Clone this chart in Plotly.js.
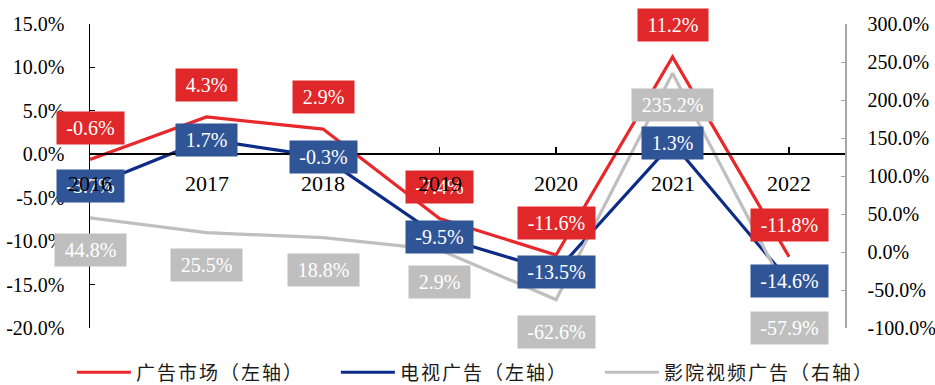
<!DOCTYPE html>
<html><head><meta charset="utf-8">
<script src="https://cdn.plot.ly/plotly-3.0.1.min.js"></script>
<style>body{margin:0;background:#fff}#chart{width:935px;height:385px}.legendtext{letter-spacing:2px}</style>
</head><body><div id="chart"></div>
<script>
const years = ['2016','2017','2018','2019','2020','2021','2022'];
const adMarket = [-0.6, 4.3, 2.9, -7.4, -11.6, 11.2, -11.8];
const tvAd = [-3.7, 1.7, -0.3, -9.5, -13.5, 1.3, -14.6];
const cinemaAd = [44.8, 25.5, 18.8, 2.9, -62.6, 235.2, -57.9];
const leftTicks = [-20, -15, -10, -5, 0, 5, 10, 15];
const rightTicks = [-100, -50, 0, 50, 100, 150, 200, 250, 300];
const seriesNames = ['广告市场（左轴）', '电视广告（左轴）', '影院视频广告（右轴）'];

const fmt = v => v.toFixed(1) + '%';
const SERIF = '"Liberation Serif", "Times New Roman", serif';
const cv = document.createElement('canvas').getContext('2d');
cv.font = '20px "Liberation Serif"';
const tw = s => cv.measureText(s).width;

const series = [
  {name: seriesNames[0], y: adMarket, line: '#E8282B', box: '#E0282A', axis: 'y', shift: 32},
  {name: seriesNames[1], y: tvAd, line: '#0D2C87', box: '#2F5597', axis: 'y', shift: 0},
  {name: seriesNames[2], y: cinemaAd, line: '#BFBFBF', box: '#BFBFBF', axis: 'y2', shift: -32}
];

const traces = series.map(s => ({
  type: 'scatter', mode: 'lines', name: s.name, x: years, y: s.y,
  yaxis: s.axis, line: {color: s.line, width: 3.2}, hoverinfo: 'skip'
}));

const annotations = [];
series.forEach(s => {
  s.y.forEach((v, i) => {
    const t = fmt(v);
    annotations.push({
      x: i, y: v, xref: 'x', yref: s.axis, text: t, showarrow: false,
      yshift: s.shift, bgcolor: s.box, borderpad: 0,
      width: Math.round(tw(t) + 19), height: 32,
      font: {family: SERIF, size: 20, color: '#ffffff'}
    });
  });
});
years.forEach((y, i) => {
  annotations.push({
    x: i, y: 0, xref: 'x', yref: 'y', text: y, showarrow: false, yshift: -29,
    font: {family: SERIF, size: 22, color: '#000000'}
  });
});

const layout = {
  width: 935, height: 385,
  margin: {l: 90, r: 90, t: 24, b: 57, autoexpand: false},
  paper_bgcolor: '#ffffff', plot_bgcolor: '#ffffff',
  showlegend: true,
  legend: {orientation: 'h', x: -0.024, xanchor: 'left', y: -0.146, yanchor: 'middle',
    entrywidth: 195, entrywidthmode: 'pixels', itemwidth: 54,
    font: {family: '"Noto Sans CJK SC"', size: 19, color: '#1a1a1a'}},
  xaxis: {type: 'category', range: [0, 6.48], anchor: 'free', position: 20 / 35,
    showline: true, linecolor: '#000000', linewidth: 2, ticks: 'inside', ticklen: 6,
    tickcolor: '#000000', tickwidth: 1.5, showticklabels: false, showgrid: false,
    zeroline: false, fixedrange: true},
  yaxis: {range: [-20, 15], tickvals: leftTicks, ticktext: leftTicks.map(fmt),
    showline: true, linecolor: '#000000', linewidth: 1.5, ticks: 'inside', ticklen: 5,
    tickcolor: '#000000', showgrid: false, zeroline: false, ticklabelstandoff: 20,
    tickfont: {family: SERIF, size: 20, color: '#000000'}, fixedrange: true},
  yaxis2: {overlaying: 'y', side: 'right', range: [-100, 300], tickvals: rightTicks,
    ticktext: rightTicks.map(fmt), showline: true, linecolor: '#A6A6A6', linewidth: 1.5,
    ticks: 'inside', ticklen: 4, tickcolor: '#A6A6A6', showgrid: false, zeroline: false,
    ticklabelstandoff: 17, tickfont: {family: SERIF, size: 20, color: '#000000'}, fixedrange: true},
  annotations: annotations
};

Plotly.newPlot('chart', traces, layout, {displayModeBar: false, staticPlot: true});
</script>
</body></html>
